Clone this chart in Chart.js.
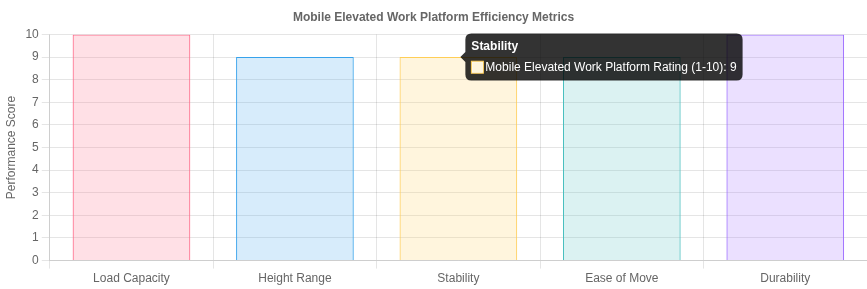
<!DOCTYPE html>
<html>
<head>
<meta charset="utf-8">
<script src="https://cdn.jsdelivr.net/npm/chart.js@4"></script>
<style>
  html, body { margin: 0; padding: 0; background: #fff; }
  #wrap { width: 867px; height: 289px; }
</style>
</head>
<body>
<div id="wrap"><canvas id="chart"></canvas></div>
<script>
const categories = ['Load Capacity', 'Height Range', 'Stability', 'Ease of Move', 'Durability']
const ratings = [10, 9, 9, 9, 10]
const seriesLabel = 'Mobile Elevated Work Platform Rating (1-10)'
const fills = [
  'rgba(255, 99, 132, 0.2)',
  'rgba(54, 162, 235, 0.2)',
  'rgba(255, 206, 86, 0.2)',
  'rgba(75, 192, 192, 0.2)',
  'rgba(153, 102, 255, 0.2)',
]
const borders = [
  'rgba(255, 99, 132, 1)',
  'rgba(54, 162, 235, 1)',
  'rgba(255, 206, 86, 1)',
  'rgba(75, 192, 192, 1)',
  'rgba(153, 102, 255, 1)',
]

Chart.defaults.font.family = "'Helvetica Neue', Helvetica, Arial, sans-serif"
Chart.defaults.color = '#666'

const ctx = document.getElementById('chart').getContext('2d')
const chart = new Chart(ctx, {
  type: 'bar',
  data: {
    labels: categories,
    datasets: [
      {
        label: seriesLabel,
        data: ratings,
        backgroundColor: fills,
        borderColor: borders,
        borderWidth: 1,
      },
    ],
  },
  options: {
    responsive: true,
    maintainAspectRatio: false,
    animation: false,
    plugins: {
      legend: { display: false },
      title: {
        display: true,
        text: 'Mobile Elevated Work Platform Efficiency Metrics',
        font: { size: 12, weight: 'bold' },
        padding: { top: 10, bottom: 10 },
      },
      tooltip: {
        backgroundColor: 'rgba(0, 0, 0, 0.8)',
      },
    },
    scales: {
      y: {
        min: 0,
        max: 10,
        ticks: { stepSize: 1 },
        title: { display: true, text: 'Performance Score' },
      },
      x: {},
    },
  },
})

const bar = chart.getDatasetMeta(0).data[2]
chart.tooltip.setActiveElements([{ datasetIndex: 0, index: 2 }], { x: bar.x, y: bar.y })
chart.update()
</script>
</body>
</html>
